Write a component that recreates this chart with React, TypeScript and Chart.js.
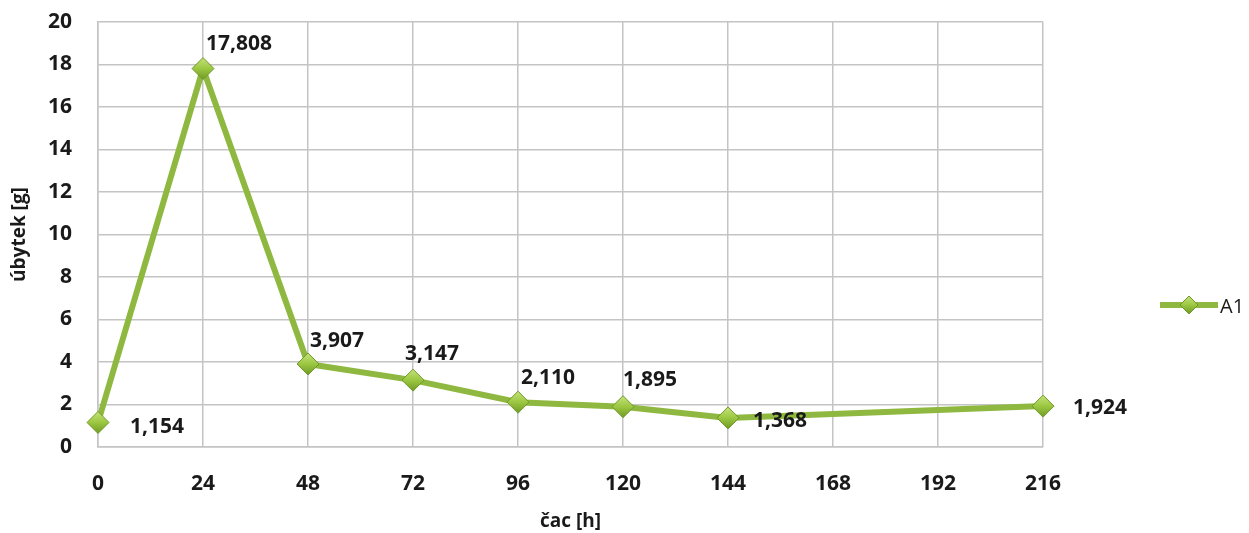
import React, { useEffect, useRef } from "react";
import { Chart, registerables } from "chart.js";

Chart.register(...registerables);

const hours = [0, 24, 48, 72, 96, 120, 144, 216];
const lossA1 = [1.154, 17.808, 3.907, 3.147, 2.11, 1.895, 1.368, 1.924];
const valueLabels = ["1,154", "17,808", "3,907", "3,147", "2,110", "1,895", "1,368", "1,924"];
const xTicks = [0, 24, 48, 72, 96, 120, 144, 168, 192, 216];
const seriesName = "A1";

// label offsets (dx, dy) relative to each point
const labelOffsets: [number, number][] = [
  [32, 5], [3, -25], [2, -23], [-8, -26], [3, -24], [0, -27], [25, 3], [30, 2],
];

const LINE = "#8fb840";
const FONT = "'Open Sans', sans-serif";

function drawDiamond(ctx: CanvasRenderingContext2D, x: number, y: number, r: number) {
  const g = ctx.createLinearGradient(x, y - r, x, y + r);
  g.addColorStop(0, "#c4e27a");
  g.addColorStop(0.5, "#9cc741");
  g.addColorStop(1, "#6f9a26");
  ctx.beginPath();
  ctx.moveTo(x, y - r);
  ctx.lineTo(x + r, y);
  ctx.lineTo(x, y + r);
  ctx.lineTo(x - r, y);
  ctx.closePath();
  ctx.fillStyle = g;
  ctx.fill();
  ctx.lineWidth = 1;
  ctx.strokeStyle = "#6f9a26";
  ctx.stroke();
}

const overlay = {
  id: "overlay",
  afterDatasetsDraw(chart: any) {
    const ctx = chart.ctx as CanvasRenderingContext2D;
    const meta = chart.getDatasetMeta(0);
    ctx.save();
    meta.data.forEach((pt: any) => drawDiamond(ctx, pt.x, pt.y, 11));
    ctx.font = `bold 21px ${FONT}`;
    ctx.fillStyle = "#1a1a1a";
    ctx.textAlign = "left";
    ctx.textBaseline = "middle";
    meta.data.forEach((pt: any, i: number) => {
      const [dx, dy] = labelOffsets[i];
      ctx.fillText(valueLabels[i], pt.x + dx, pt.y + dy);
    });
    // legend
    const ly = 305;
    ctx.strokeStyle = LINE;
    ctx.lineWidth = 6;
    ctx.beginPath();
    ctx.moveTo(1160, ly);
    ctx.lineTo(1218, ly);
    ctx.stroke();
    drawDiamond(ctx, 1189, ly, 9);
    ctx.font = `20px ${FONT}`;
    ctx.fillStyle = "#1a1a1a";
    ctx.fillText(seriesName, 1220, ly + 2);
    ctx.restore();
  },
};

export default function App() {
  const ref = useRef<HTMLCanvasElement>(null);
  useEffect(() => {
    document.body.style.margin = "0";
    const chart = new Chart(ref.current!, {
      type: "line",
      data: {
        datasets: [
          {
            label: seriesName,
            data: hours.map((h, i) => ({ x: h, y: lossA1[i] })),
            borderColor: LINE,
            borderWidth: 6,
            pointRadius: 0,
            pointHoverRadius: 0,
            tension: 0,
          },
        ],
      },
      options: {
        responsive: false,
        animation: false,
        events: [],
        layout: { padding: { top: 22, right: 206, left: 0, bottom: 0 } },
        plugins: { legend: { display: false }, tooltip: { enabled: false } },
        scales: {
          x: {
            type: "linear",
            min: 0,
            max: 216,
            afterBuildTicks: (s: any) => {
              s.ticks = xTicks.map((v) => ({ value: v }));
            },
            afterFit: (s: any) => {
              s.height = 86;
              s.paddingLeft = 0;
              s.paddingRight = 0;
            },
            grid: { color: "#c4c4c4", lineWidth: 1.5, drawTicks: false },
            border: { color: "#c4c4c4", width: 1.5 },
            ticks: {
              padding: 24,
              color: "#1a1a1a",
              font: { family: FONT, size: 21, weight: "bold" },
              maxRotation: 0,
            },
            title: {
              display: true,
              text: "čac [h]",
              color: "#1a1a1a",
              font: { family: FONT, size: 19, weight: "bold" },
              padding: { top: 4, bottom: 0 },
            },
          },
          y: {
            min: 0,
            max: 20,
            ticks: {
              stepSize: 2,
              padding: 26,
              color: "#1a1a1a",
              font: { family: FONT, size: 21, weight: "bold" },
            },
            afterFit: (s: any) => {
              s.width = 98;
              s.paddingTop = 0;
              s.paddingBottom = 0;
            },
            grid: { color: "#c4c4c4", lineWidth: 1.5, drawTicks: false },
            border: { color: "#c4c4c4", width: 1.5 },
            title: {
              display: true,
              text: "úbytek [g]",
              color: "#1a1a1a",
              font: { family: FONT, size: 19, weight: "bold" },
              padding: { top: 8, bottom: 0 },
            },
          },
        },
      },
      plugins: [overlay],
    } as any);
    return () => chart.destroy();
  }, []);
  return (
    <div style={{ width: 1249, height: 533, background: "#fff" }}>
      <canvas ref={ref} width={1249} height={533} />
    </div>
  );
}
